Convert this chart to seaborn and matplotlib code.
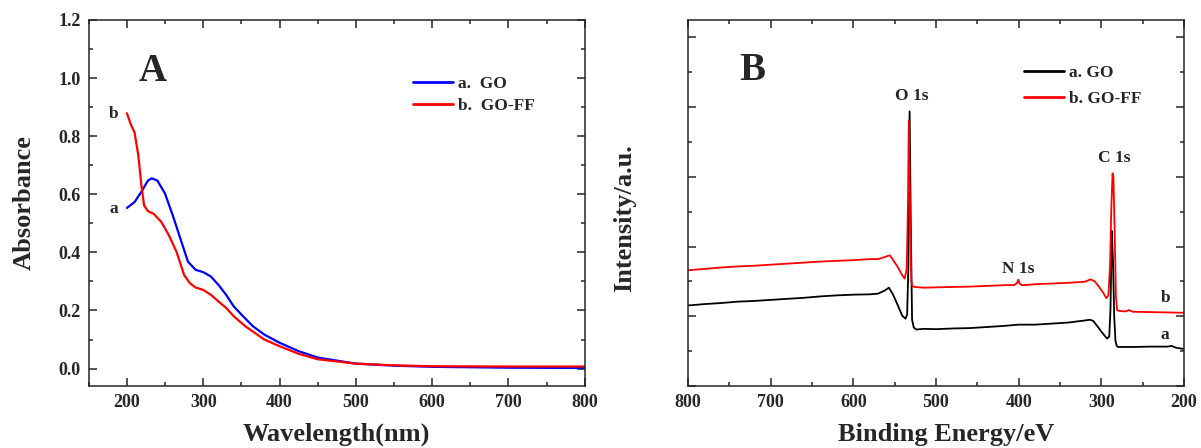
import numpy as np
import pandas as pd
import matplotlib
matplotlib.use("Agg")
import matplotlib.pyplot as plt
import seaborn as sns
from matplotlib.ticker import MultipleLocator

# ---------------- Panel A data (UV-vis) ----------------
wl_go = [200, 210, 220, 227.5, 232.5, 240, 250, 260, 270, 280, 290, 300, 310, 320, 330,
         340, 350, 365, 380, 400, 425, 450, 500, 550, 600, 700, 800]
abs_go = [0.553, 0.573, 0.613, 0.647, 0.655, 0.647, 0.602, 0.528, 0.448, 0.368, 0.340,
          0.332, 0.317, 0.288, 0.254, 0.214, 0.186, 0.146, 0.117, 0.089, 0.060, 0.038,
          0.017, 0.010, 0.006, 0.003, 0.002]
wl_goff = [200, 205, 210, 215, 219, 222.5, 227.5, 235, 245, 255, 265, 275, 282.5, 290, 300,
           310, 320, 330, 340, 355, 367.5, 380, 400, 425, 450, 500, 550, 600, 700, 800]
abs_goff = [0.879, 0.841, 0.813, 0.733, 0.630, 0.562, 0.542, 0.533, 0.505, 0.459, 0.402,
            0.322, 0.294, 0.279, 0.271, 0.254, 0.231, 0.209, 0.180, 0.146, 0.123, 0.100,
            0.077, 0.051, 0.032, 0.017, 0.011, 0.008, 0.007, 0.007]

# ---------------- Panel B data (XPS survey) ----------------
be_go = [800, 780, 760, 740, 720, 700, 680, 660, 640, 620, 600, 580, 570, 562, 557, 552,
         546, 541, 537, 535, 533.5, 532, 530.5, 529, 527, 524, 515, 500, 480, 460, 440,
         420, 400, 380, 360, 340, 320, 314, 310, 305, 300, 296, 293, 290.5, 289, 287.5,
         286, 284.5, 283, 281.5, 280, 275, 260, 240, 220, 215, 210, 200]
int_go = [2.31, 2.35, 2.38, 2.42, 2.44, 2.47, 2.50, 2.53, 2.57, 2.60, 2.62, 2.63, 2.65,
          2.74, 2.82, 2.62, 2.30, 2.02, 1.93, 2.05, 3.4, 7.88, 4.5, 1.9, 1.68, 1.62, 1.64,
          1.63, 1.65, 1.66, 1.69, 1.72, 1.76, 1.76, 1.79, 1.82, 1.88, 1.90, 1.87, 1.72,
          1.56, 1.44, 1.36, 1.42, 2.2, 4.45, 3.6, 2.0, 1.3, 1.15, 1.12, 1.12, 1.12, 1.13,
          1.13, 1.15, 1.10, 1.06]
be_goff = [800, 780, 760, 740, 720, 700, 680, 660, 640, 620, 600, 580, 570, 562, 556, 551,
           546, 541, 538, 535.5, 534, 533, 531.5, 530, 528.5, 526, 515, 500, 480, 460, 440,
           420, 405, 402, 400.5, 399, 396, 380, 360, 340, 320, 313, 308, 303, 298, 294,
           291.5, 289.5, 288, 286.5, 285.5, 284, 282.5, 281, 278, 270, 267, 262, 240, 220, 200]
int_goff = [3.32, 3.36, 3.40, 3.43, 3.45, 3.48, 3.51, 3.54, 3.57, 3.59, 3.61, 3.64, 3.64,
            3.70, 3.75, 3.58, 3.40, 3.18, 3.08, 3.35, 5.2, 7.62, 5.0, 3.0, 2.86, 2.84,
            2.82, 2.83, 2.84, 2.85, 2.87, 2.89, 2.90, 2.96, 3.05, 2.94, 2.89, 2.92, 2.94,
            2.96, 2.99, 3.06, 3.0, 2.85, 2.68, 2.52, 2.6, 3.5, 5.1, 6.1, 6.0, 4.5, 2.6,
            2.18, 2.15, 2.14, 2.18, 2.13, 2.12, 2.11, 2.10]

legend_a = ["a.  GO", "b.  GO-FF"]
legend_b = ["a. GO", "b. GO-FF"]

sns.set_style("ticks")
plt.rcParams['font.family'] = ['Liberation Serif', 'DejaVu Serif']
plt.rcParams['font.weight'] = 'bold'
plt.rcParams['axes.labelweight'] = 'bold'
plt.rcParams['axes.linewidth'] = 1.1

fig = plt.figure(figsize=(12.01, 4.48), dpi=100)
axA = fig.add_axes([0.0739, 0.1384, 0.4130, 0.8170])
axB = fig.add_axes([0.5729, 0.1384, 0.4130, 0.8170])

dfA1 = pd.DataFrame({"x": wl_go, "y": abs_go})
dfA2 = pd.DataFrame({"x": wl_goff, "y": abs_goff})
sns.lineplot(data=dfA1, x="x", y="y", ax=axA, color="#0000FF", lw=1.6,
             sort=False, estimator=None, label=legend_a[0])
sns.lineplot(data=dfA2, x="x", y="y", ax=axA, color="#FF0000", lw=1.6,
             sort=False, estimator=None, label=legend_a[1])

dfB1 = pd.DataFrame({"x": be_go, "y": int_go})
dfB2 = pd.DataFrame({"x": be_goff, "y": int_goff})
sns.lineplot(data=dfB1, x="x", y="y", ax=axB, color="black", lw=1.3,
             sort=False, estimator=None, label=legend_b[0])
sns.lineplot(data=dfB2, x="x", y="y", ax=axB, color="#FF0000", lw=1.3,
             sort=False, estimator=None, label=legend_b[1])

# Panel A axes
axA.set_xlim(150, 800)
axA.set_ylim(-0.06, 1.2)
axA.xaxis.set_major_locator(MultipleLocator(100))
axA.xaxis.set_minor_locator(MultipleLocator(50))
axA.yaxis.set_major_locator(MultipleLocator(0.2))
axA.yaxis.set_minor_locator(MultipleLocator(0.1))
axA.set_xticks([200, 300, 400, 500, 600, 700, 800])
axA.set_yticks([0.0, 0.2, 0.4, 0.6, 0.8, 1.0, 1.2])
axA.set_yticklabels(["0.0", "0.2", "0.4", "0.6", "0.8", "1.0", "1.2"])

# Panel B axes
axB.set_xlim(800, 200)
axB.set_ylim(0, 10.5)
axB.xaxis.set_major_locator(MultipleLocator(100))
axB.xaxis.set_minor_locator(MultipleLocator(50))
axB.yaxis.set_major_locator(MultipleLocator(2))
axB.yaxis.set_minor_locator(MultipleLocator(1))
axB.set_yticklabels([])

for ax in (axA, axB):
    ax.tick_params(which='both', direction='in', top=True, right=True, width=1.1)
    ax.tick_params(which='major', length=6, labelsize=13, pad=6)
    ax.tick_params(which='minor', length=3)
    for lab in ax.get_xticklabels() + ax.get_yticklabels():
        lab.set_fontweight('bold')
    for s in ax.spines.values():
        s.set_linewidth(1.1)

axA.set_xlabel("Wavelength(nm)", fontsize=19, fontweight='bold')
axA.set_ylabel("Absorbance", fontsize=19, fontweight='bold')
axB.set_xlabel("Binding Energy/eV", fontsize=19, fontweight='bold')
axB.set_ylabel("Intensity/a.u.", fontsize=19, fontweight='bold')
axA.xaxis.set_label_coords(0.5, -0.1)
axB.xaxis.set_label_coords(0.52, -0.1)
axA.yaxis.set_label_coords(-0.106, 0.5)
axB.yaxis.set_label_coords(-0.105, 0.46)

# Legends
legA = axA.legend(loc='upper left', bbox_to_anchor=(0.654, 0.848), frameon=False,
                  borderpad=0, borderaxespad=0, handlelength=2.3, handletextpad=0.3,
                  labelspacing=0.35, prop={'family': 'Liberation Serif', 'weight': 'bold', 'size': 12.5})
legB = axB.legend(loc='upper left', bbox_to_anchor=(0.677, 0.878), frameon=False,
                  borderpad=0, borderaxespad=0, handlelength=2.3, handletextpad=0.3,
                  labelspacing=0.6, prop={'family': 'Liberation Serif', 'weight': 'bold', 'size': 12.5})
for lg in (legA, legB):
    for ln in lg.get_lines():
        ln.set_linewidth(2.0)

# Annotations
txt = dict(fontweight='bold', ha='center', va='center')
axA.text(234, 1.022, "A", fontsize=28, **txt)
axA.text(182.6, 0.875, "b", fontsize=12.5, **txt)
axA.text(182.6, 0.548, "a", fontsize=12.5, **txt)
axB.text(722, 9.06, "B", fontsize=28, **txt)
axB.text(529, 8.32, "O 1s", fontsize=12.5, **txt)
axB.text(284, 6.55, "C 1s", fontsize=12.5, **txt)
axB.text(400.5, 3.37, "N 1s", fontsize=12.5, **txt)
axB.text(222, 2.52, "b", fontsize=12.5, **txt)
axB.text(222.8, 1.46, "a", fontsize=12.5, **txt)

fig.savefig("out.png", dpi=100)
